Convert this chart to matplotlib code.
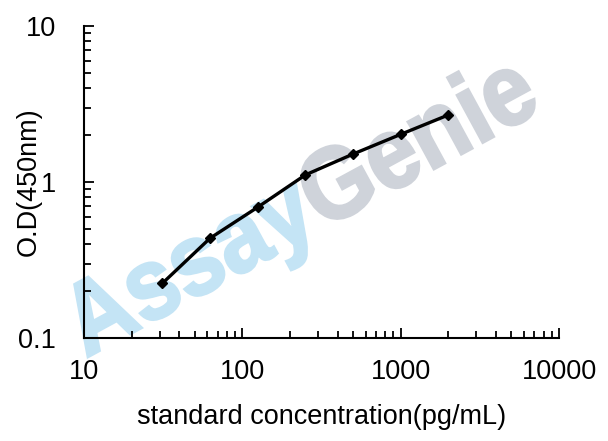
import numpy as np
import matplotlib
matplotlib.use("Agg")
import matplotlib.pyplot as plt
from matplotlib.textpath import TextPath
from matplotlib.patches import PathPatch
from matplotlib.font_manager import FontProperties
import matplotlib.transforms as mtransforms

concentration = [31.25, 62.5, 125, 250, 500, 1000, 2000]
od450 = [0.224, 0.436, 0.689, 1.11, 1.51, 2.02, 2.69]
x_ticks = [10, 100, 1000, 10000]
x_tick_labels = ["10", "100", "1000", "10000"]
y_ticks = [0.1, 1, 10]
y_tick_labels = ["0.1", "1", "10"]

plt.rcParams['font.family'] = ['Liberation Sans', 'DejaVu Sans']

fig = plt.figure(figsize=(6.08, 4.41), dpi=100)
ax = fig.add_axes([84/608, 1-338/441, (559-84)/608, (338-26)/441])

# watermark (bold text as path, in display pixels)
fp = FontProperties(family='Liberation Sans', weight='bold')
ang = 28.5
em_x, em_y = 91, 102
start = (86, 441 - 358)
tp_a = TextPath((0, 0), "Assay", size=1, prop=fp)
adv = TextPath((0, 0), "AssayG", size=1, prop=fp).get_extents().x1 - \
      TextPath((0, 0), "G", size=1, prop=fp).get_extents().x1
tp_g = TextPath((adv, 0), "Genie", size=1, prop=fp)
base = mtransforms.Affine2D().scale(em_x, em_y).rotate_deg(ang).translate(*start)
for tp, col in [(tp_a, '#c4e4f5'), (tp_g, '#cfd3da')]:
    patch = PathPatch(tp, facecolor=col, edgecolor=col, lw=2.0, zorder=0.5,
                      transform=base + mtransforms.IdentityTransform(), clip_on=False)
    ax.add_artist(patch)

ax.plot(concentration, od450, color='black', lw=2.4, marker='D', ms=5, zorder=3)
ax.set_xscale('log')
ax.set_yscale('log')
ax.set_xlim(10, 10000)
ax.set_ylim(0.1, 10)
ax.set_xticks(x_ticks)
ax.set_xticklabels(x_tick_labels)
ax.set_yticks(y_ticks)
ax.set_yticklabels(y_tick_labels)
ax.spines['top'].set_visible(False)
ax.spines['right'].set_visible(False)
for s in ['left', 'bottom']:
    ax.spines[s].set_linewidth(1.5)
    ax.spines[s].set_zorder(4)
ax.tick_params(which='both', direction='in', width=1.3)
ax.tick_params(which='major', length=7, labelsize=19.5)
ax.tick_params(which='minor', length=5)
ax.tick_params(axis='x', pad=15)
ax.tick_params(axis='y', pad=20)
ax.set_xlabel("standard concentration(pg/mL)", fontsize=19.5)
ax.set_ylabel("O.D(450nm)", fontsize=19.5)
ax.xaxis.set_label_coords(0.5, -(417-338)/312, transform=ax.transAxes)
ax.yaxis.set_label_coords(-(84-29)/475, 0.5, transform=ax.transAxes)
ax.xaxis.label.set_va('center')
ax.yaxis.label.set_va('center')

fig.savefig("out.png", dpi=100)
